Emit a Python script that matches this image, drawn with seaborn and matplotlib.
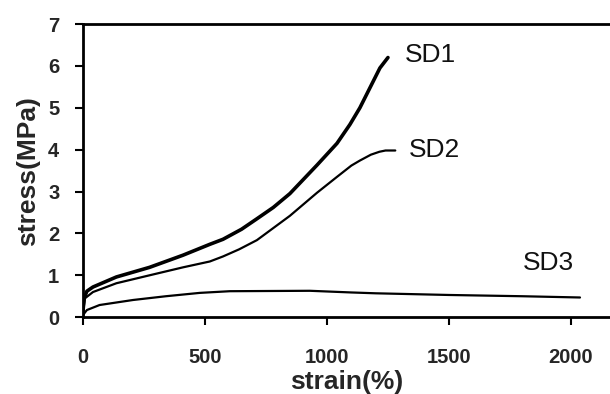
import matplotlib
matplotlib.use("Agg")
import matplotlib.pyplot as plt
import seaborn as sns
import pandas as pd

# Data
sd1_strain = [0, 5, 16, 41, 137, 273, 410, 520, 574, 650, 713, 780, 848, 959, 1041, 1094, 1135, 1217, 1250]
sd1_stress = [0.15, 0.45, 0.62, 0.72, 0.96, 1.19, 1.48, 1.74, 1.86, 2.10, 2.35, 2.62, 2.95, 3.63, 4.15, 4.60, 5.00, 5.95, 6.20]

sd2_strain = [0, 8, 41, 137, 273, 410, 520, 574, 640, 713, 848, 959, 1041, 1100, 1135, 1180, 1215, 1240, 1280]
sd2_stress = [0.10, 0.45, 0.60, 0.81, 1.00, 1.19, 1.33, 1.45, 1.62, 1.84, 2.42, 2.97, 3.35, 3.62, 3.74, 3.88, 3.95, 3.98, 3.98]

sd3_strain = [0, 16, 68, 205, 340, 479, 602, 930, 1100, 1200, 1500, 1800, 2037]
sd3_stress = [0.05, 0.17, 0.29, 0.41, 0.50, 0.58, 0.62, 0.63, 0.59, 0.57, 0.53, 0.50, 0.47]

labels = ["SD1", "SD2", "SD3"]
label_pos_x = [1320, 1336, 1803]
label_pos_y = [6.26, 3.99, 1.29]

xticks = [0, 500, 1000, 1500, 2000]
yticks = [0, 1, 2, 3, 4, 5, 6, 7]

sns.set_theme(style="white")
plt.rcParams['font.family'] = ['Liberation Sans', 'DejaVu Sans']

df = pd.concat([
    pd.DataFrame({"strain": sd1_strain, "stress": sd1_stress, "sample": "SD1"}),
    pd.DataFrame({"strain": sd2_strain, "stress": sd2_stress, "sample": "SD2"}),
    pd.DataFrame({"strain": sd3_strain, "stress": sd3_stress, "sample": "SD3"}),
])

fig = plt.figure(figsize=(6.1, 3.94), dpi=100)
ax = fig.add_axes([0.136, 0.195, 0.864, 0.744])

widths = {"SD1": 2.6, "SD2": 1.6, "SD3": 1.6}
for name in labels:
    sub = df[df["sample"] == name]
    sns.lineplot(data=sub, x="strain", y="stress", ax=ax, color="black",
                 linewidth=widths[name], sort=False, estimator=None, legend=False)

for name, tx, ty in zip(labels, label_pos_x, label_pos_y):
    ax.text(tx, ty, name, fontsize=19, color="#111111", va="center", ha="left")

ax.set_xlim(0, 2160)
ax.set_ylim(0, 7)
ax.set_xticks(xticks)
ax.set_yticks(yticks)
ax.set_xticklabels([str(v) for v in xticks], fontsize=14.5, fontweight="bold")
ax.set_yticklabels([str(v) for v in yticks], fontsize=14.5, fontweight="bold")
ax.tick_params(axis="both", direction="out", length=6, width=1.5, color="black",
               bottom=True, left=True)
ax.tick_params(axis="x", pad=16)
ax.tick_params(axis="y", pad=11)

for s in ["top", "bottom", "left"]:
    ax.spines[s].set_visible(True)
    ax.spines[s].set_color("black")
    ax.spines[s].set_linewidth(2)
ax.spines["right"].set_visible(False)

ax.set_xlabel("strain(%)", fontsize=19, fontweight="bold", labelpad=2)
ax.set_ylabel("stress(MPa)", fontsize=19, fontweight="bold", labelpad=6)

fig.savefig("out.png", dpi=100)
